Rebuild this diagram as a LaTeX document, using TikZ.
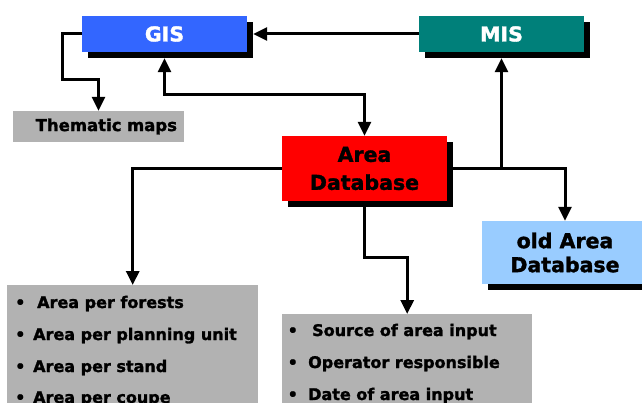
\documentclass[tikz,border=0pt]{standalone}
\usepackage{fontspec}
\setmainfont{DejaVu Sans}[BoldFeatures={FakeBold=1.6}]
\usetikzlibrary{arrows.meta,shadows}

\definecolor{gisblue}{RGB}{51,102,255}
\definecolor{misteal}{RGB}{0,128,122}
\definecolor{dbred}{RGB}{255,0,0}
\definecolor{boxgrey}{RGB}{178,178,178}
\definecolor{oldblue}{RGB}{153,204,255}

\tikzset{
  box/.style={rectangle, inner sep=0pt, align=center, text=black,
    font=\fontsize{20.5}{28}\selectfont\bfseries},
  shadowed/.style={drop shadow={shadow xshift=6pt, shadow yshift=-6pt,
    fill=black, opacity=1}},
  greybox/.style={rectangle, fill=boxgrey, inner sep=0pt},
  itemline/.style={anchor=base west, inner sep=0pt, text=black,
    font=\fontsize{16}{18}\selectfont\bfseries},
  link/.style={line width=3pt, draw=black},
  arr/.style={link, -{Triangle[width=13pt,length=14pt]}},
  biarr/.style={link, {Triangle[width=13pt,length=14pt]}-{Triangle[width=13pt,length=14pt]}},
}

\begin{document}
\begin{tikzpicture}[x=1pt, y=-1pt]
  \useasboundingbox (0,0) rectangle (642,403);

  % top row
  \node[box, shadowed, fill=gisblue, text=white, minimum width=165pt, minimum height=36pt]
    (gis) at (164.5,34) {GIS};
  \node[box, shadowed, fill=misteal, text=white, minimum width=165pt, minimum height=36pt]
    (mis) at (501.5,34) {MIS};

  \node[greybox, minimum height=31pt, text width=157pt, inner xsep=7pt, align=right,
    font=\fontsize{16.5}{18}\selectfont\bfseries]
    (thematic) at (98.5,126.5) {Thematic maps};

  % central database
  \node[box, shadowed, fill=dbred, minimum width=165pt, minimum height=65pt]
    (area) at (364.5,168.5) {Area\\Database};

  \node[box, shadowed, fill=oldblue, minimum width=160pt, minimum height=63pt,
    font=\fontsize{20.5}{24}\selectfont\bfseries]
    (old) at (562,252.5) {\hspace*{6pt}old Area\\\hspace*{6pt}Database};

  % attribute lists
  \node[greybox, anchor=north west, minimum width=251pt, minimum height=118pt]
    (lbox) at (7,285) {};
  \node[greybox, anchor=north west, minimum width=250pt, minimum height=89pt]
    (mbox) at (282,314) {};

  \node[itemline] (l1) at (15,308) {\makebox[22pt][l]{•}Area per forests};
  \node[itemline] (l2) at (15,340) {\makebox[18pt][l]{•}Area per planning unit};
  \node[itemline] (l3) at (15,372) {\makebox[18pt][l]{•}Area per stand};
  \node[itemline] (l4) at (15,403) {\makebox[18pt][l]{•}Area per coupe};

  \node[itemline] (m1) at (287.5,336) {\makebox[24.5pt][l]{•}Source of area input};
  \node[itemline] (m2) at (287.5,368) {\makebox[20.5pt][l]{•}Operator responsible};
  \node[itemline] (m3) at (287.5,400) {\makebox[20.5pt][l]{•}Date of area input};

  % connectors
  \draw[arr] (mis.west) -- ([xshift=6pt]gis.east);
  \draw[arr] (gis.west) -- ++(-19,0) |- ([yshift=31pt]thematic.north) -- (thematic.north);
  \draw[biarr] ([yshift=-6pt]gis.south) |- ([yshift=41pt]area.north) -- (area.north);
  \draw[arr] (area.east) -| ([xshift=3pt]old.north);
  \draw[arr] (area.east -| mis.south) -- ([yshift=-6pt]mis.south);
  \draw[arr] (area.west) -| (lbox.north);
  \draw[arr] ([yshift=-6pt]area.south) -- ++(0,50) -| (mbox.north);
\end{tikzpicture}
\end{document}
